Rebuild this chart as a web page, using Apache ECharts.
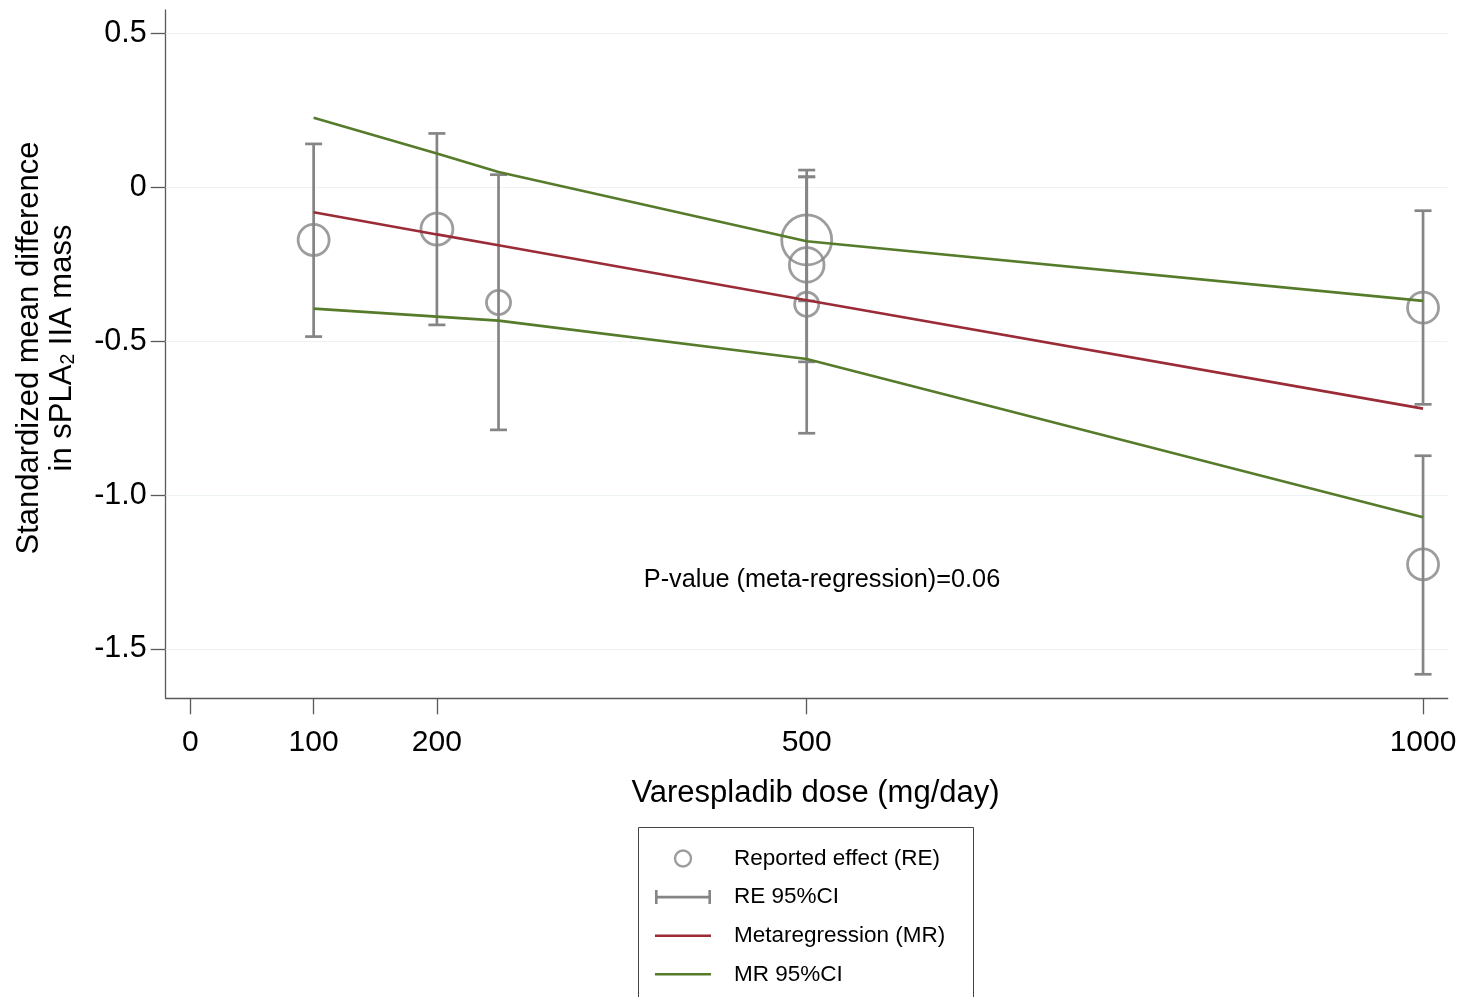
<!DOCTYPE html>
<html>
<head>
<meta charset="utf-8">
<script src="https://cdn.jsdelivr.net/npm/echarts@6/dist/echarts.min.js"></script>
<style>
  html, body { margin: 0; padding: 0; background: #ffffff; }
  #chart { width: 1464px; height: 997px; }
</style>
</head>
<body>
<div id="chart"></div>
<script>
// Study-level effects: dose, standardized mean difference, 95% CI, relative weight
const studyDose   = [100, 200, 250, 500, 500, 500, 1000, 1000];
const studyEffect = [-0.171, -0.136, -0.374, -0.171, -0.252, -0.380, -0.391, -1.225];
const studyLower  = [-0.485, -0.447, -0.788, -0.369, -0.567, -0.799, -0.705, -1.582];
const studyUpper  = [0.141, 0.175, 0.041, 0.034, 0.056, 0.034, -0.076, -0.872];
const studyWeight = [9.6, 10.2, 5.8, 25.0, 12.0, 5.8, 9.6, 9.6];

// Meta-regression fit and its confidence band
const fitDose  = [100, 200, 250, 500, 1000];
const fitMR    = [-0.081, -0.153, -0.188, -0.367, -0.719];
const fitUpper = [0.226, 0.110, 0.050, -0.175, -0.369];
const fitLower = [-0.394, -0.420, -0.433, -0.558, -1.072];

// Axis ticks
const xTicks = [0, 100, 200, 500, 1000];
const yTicks = [0.5, 0, -0.5, -1.0, -1.5];

const FONT = '"Liberation Sans", Arial, Helvetica, sans-serif';
const GREY = '#858585';
const RED = '#9b2c37';
const GREEN = '#567b2b';
const AXIS = '#5a5a5a';

const chart = echarts.init(document.getElementById('chart'), null, { renderer: 'canvas' });

const pair = (xs, ys) => xs.map((x, i) => [x, ys[i]]);

const option = {
  backgroundColor: '#ffffff',
  animation: false,
  textStyle: { fontFamily: FONT },
  grid: { left: 165.7, top: 10, right: 16.3, bottom: 298.7, containLabel: false },
  xAxis: {
    type: 'value',
    min: -20,
    max: 1020,
    axisLine: { show: true, onZero: false, lineStyle: { color: AXIS, width: 1.3 } },
    axisTick: { show: true, length: 16, customValues: xTicks, lineStyle: { color: AXIS, width: 1.3 } },
    axisLabel: {
      customValues: xTicks, margin: 29, fontSize: 30, color: '#000', fontFamily: FONT,
      formatter: v => String(v)
    },
    splitLine: { show: false }
  },
  yAxis: {
    type: 'value',
    min: -1.66,
    max: 0.576,
    axisLine: { show: true, onZero: false, lineStyle: { color: AXIS, width: 1.3 } },
    axisTick: { show: true, length: 15, customValues: yTicks, lineStyle: { color: AXIS, width: 1.3 } },
    axisLabel: {
      customValues: yTicks, margin: 19, fontSize: 30.5, color: '#000', fontFamily: FONT,
      padding: [4, 0, 0, 0],
      formatter: v => (Math.abs(v) < 1e-9 ? '0' : v.toFixed(1))
    },
    splitLine: { show: false }
  },
  legend: {
    orient: 'vertical',
    left: 655,
    top: 847,
    padding: 0,
    itemWidth: 56,
    itemHeight: 16,
    itemGap: 15.6,
    symbolKeepAspect: true,
    textStyle: { fontSize: 22.5, lineHeight: 22, color: '#000', fontFamily: FONT, padding: [0, 0, 0, 18] },
    data: [
      { name: 'Reported effect (RE)', itemStyle: { borderWidth: 2.4, borderColor: GREY } },
      { name: 'RE 95%CI', icon: 'path://M0,1h2.6v14h-2.6z M0,6.7h56v2.6h-56z M53.4,1h2.6v14h-2.6z' },
      { name: 'Metaregression (MR)', icon: 'path://M0,0h56v2.6h-56z' },
      { name: 'MR 95%CI', icon: 'path://M0,0h56v2.6h-56z' }
    ]
  },
  graphic: [
    {
      // legend frame, running off the bottom edge
      type: 'rect',
      shape: { x: 638.5, y: 827.5, width: 335, height: 200 },
      style: { fill: null, stroke: '#444', lineWidth: 1 },
      silent: true
    },
    {
      type: 'text',
      x: 46, y: 348,
      rotation: Math.PI / 2,
      style: {
        text: '{a|Standardized mean difference}\n{a|in sPLA}{s|2}{a| IIA mass}',
        align: 'center',
        verticalAlign: 'middle',
        fill: '#000',
        rich: {
          a: { fontSize: 31, lineHeight: 33, fontFamily: FONT, fill: '#000' },
          s: { fontSize: 19.5, lineHeight: 14, verticalAlign: 'bottom', fontFamily: FONT, fill: '#000' }
        }
      }
    },
    {
      type: 'text',
      x: 815.5, y: 793,
      style: { text: 'Varespladib dose (mg/day)', align: 'center', verticalAlign: 'middle', fontSize: 31, fontFamily: FONT, fill: '#000' }
    },
    {
      type: 'text',
      x: 822, y: 580,
      style: { text: 'P-value (meta-regression)=0.06', align: 'center', verticalAlign: 'middle', fontSize: 25.3, fontFamily: FONT, fill: '#000' }
    }
  ],
  series: [
    {
      // horizontal reference lines at the y ticks
      name: 'gridlines',
      type: 'line',
      data: [],
      z: 1,
      silent: true,
      markLine: {
        z: 1,
        silent: true,
        symbol: 'none',
        label: { show: false },
        lineStyle: { color: '#edf2f2', width: 1.2, type: 'solid' },
        data: yTicks.map(v => ({ yAxis: v }))
      }
    },
    {
      name: 'Reported effect (RE)',
      type: 'scatter',
      z: 3,
      symbol: 'circle',
      symbolSize: v => 10 * Math.sqrt(v[2]),
      itemStyle: { color: 'rgba(0,0,0,0)', borderColor: GREY, borderWidth: 2.8 },
      data: studyDose.map((d, i) => [d, studyEffect[i], studyWeight[i]])
    },
    {
      name: 'RE 95%CI',
      type: 'custom',
      z: 2,
      itemStyle: { color: GREY },
      encode: { x: 0, y: [1, 2] },
      data: studyDose.map((d, i) => [d, studyLower[i], studyUpper[i]]),
      renderItem: (params, api) => {
        const x = api.value(0);
        const lo = api.coord([x, api.value(1)]);
        const hi = api.coord([x, api.value(2)]);
        const cap = 8.5;
        const style = { stroke: GREY, lineWidth: 2.7, fill: null };
        return {
          type: 'group',
          children: [
            { type: 'line', shape: { x1: lo[0], y1: lo[1], x2: hi[0], y2: hi[1] }, style },
            { type: 'line', shape: { x1: hi[0] - cap, y1: hi[1], x2: hi[0] + cap, y2: hi[1] }, style },
            { type: 'line', shape: { x1: lo[0] - cap, y1: lo[1], x2: lo[0] + cap, y2: lo[1] }, style }
          ]
        };
      }
    },
    {
      name: 'Metaregression (MR)',
      type: 'line',
      z: 4,
      symbol: 'none',
      showSymbol: false,
      itemStyle: { color: RED },
      lineStyle: { color: RED, width: 2.6 },
      data: pair(fitDose, fitMR)
    },
    {
      name: 'MR 95%CI',
      type: 'line',
      z: 4,
      symbol: 'none',
      showSymbol: false,
      itemStyle: { color: GREEN },
      lineStyle: { color: GREEN, width: 2.6 },
      data: pair(fitDose, fitUpper)
    },
    {
      name: 'MR 95%CI',
      type: 'line',
      z: 4,
      symbol: 'none',
      showSymbol: false,
      itemStyle: { color: GREEN },
      lineStyle: { color: GREEN, width: 2.6 },
      data: pair(fitDose, fitLower)
    }
  ]
};

chart.setOption(option);
</script>
</body>
</html>
